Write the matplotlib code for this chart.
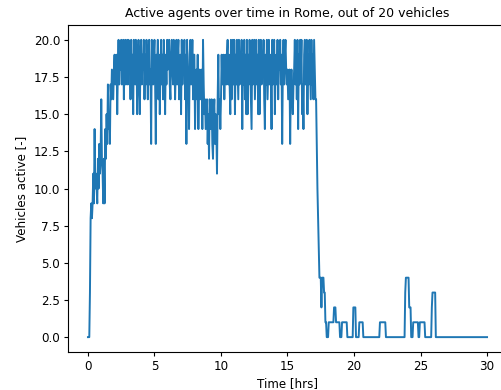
import numpy as np
import matplotlib
matplotlib.use("Agg")
import matplotlib.pyplot as plt

# Active vehicles sampled every 0.05 hr (read off the reference chart),
# one row of 20 samples per hour
active_rows = [
    [0, 0, 0, 3, 8, 9, 8, 9, 11, 9, 14, 10, 11, 10, 9, 12, 10, 13, 11, 12],        # 0 h
    [16, 12, 11, 9, 12, 9, 14, 12, 15, 13, 17, 14, 15, 13, 17, 16, 18, 17, 16, 18],  # 1 h
    [19, 17, 18, 19, 15, 18, 20, 17, 19, 18, 20, 17, 18, 20, 16, 19, 20, 17, 18, 20],  # 2 h
    [17, 20, 18, 19, 16, 20, 17, 19, 15, 20, 18, 17, 20, 19, 15, 18, 20, 17, 15, 19],  # 3 h
    [20, 17, 19, 18, 20, 16, 19, 17, 20, 18, 16, 19, 20, 17, 18, 13, 20, 18, 17, 19],  # 4 h
    [20, 17, 13, 19, 18, 20, 16, 19, 15, 18, 20, 17, 19, 16, 20, 18, 15, 19, 17, 20],  # 5 h
    [18, 19, 20, 17, 16, 19, 20, 18, 17, 20, 19, 16, 18, 20, 17, 19, 20, 16, 18, 19],  # 6 h
    [15, 20, 17, 19, 18, 20, 16, 19, 13, 20, 18, 17, 14, 19, 20, 17, 18, 20, 16, 19],  # 7 h
    [19, 14, 17, 18, 16, 19, 14, 17, 18, 16, 17, 18, 14, 20, 17, 15, 16, 14, 15, 16],  # 8 h
    [13, 15, 12, 16, 15, 14, 16, 13, 12, 15, 16, 13, 15, 14, 11, 16, 19, 15, 16, 14],  # 9 h
    [16, 19, 17, 18, 19, 16, 18, 19, 17, 19, 20, 17, 19, 17, 15, 20, 16, 19, 20, 17],  # 10 h
    [20, 15, 19, 17, 20, 18, 16, 20, 17, 19, 18, 20, 14, 19, 17, 20, 16, 19, 15, 20],  # 11 h
    [15, 19, 17, 20, 18, 16, 14, 20, 17, 19, 20, 16, 18, 20, 17, 19, 15, 20, 15, 18],  # 12 h
    [20, 17, 19, 18, 20, 16, 14, 19, 17, 20, 16, 18, 20, 17, 19, 18, 14, 20, 17, 19],  # 13 h
    [20, 15, 18, 19, 17, 20, 16, 19, 18, 20, 17, 19, 13, 18, 20, 17, 19, 20, 18, 17],  # 14 h
    [18, 16, 17, 18, 13, 17, 18, 16, 15, 17, 18, 20, 17, 19, 16, 20, 14, 19, 17, 20],  # 15 h
    [18, 20, 15, 17, 14, 19, 20, 17, 18, 20, 15, 19, 17, 20, 18, 16, 20, 17, 19, 16],  # 16 h
    [20, 18, 16, 16, 13, 10, 8, 6, 4, 4, 4, 2, 4, 4, 4, 3, 3, 1, 1, 0],              # 17 h
    [0, 0, 1, 1, 1, 1, 1, 1, 1, 1, 2, 2, 2, 1, 1, 1, 1, 1, 1, 0],                   # 18 h
    [0, 0, 1, 1, 1, 1, 1, 1, 1, 1, 0, 0, 0, 0, 0, 0, 0, 0, 0, 2],                   # 19 h
    [2, 2, 2, 0, 0, 0, 0, 0, 1, 1, 1, 1, 1, 1, 0, 0, 0, 0, 0, 0],                   # 20 h
    [0, 0, 0, 0, 0, 0, 0, 0, 0, 0, 0, 0, 0, 0, 0, 0, 0, 0, 0, 1],                   # 21 h
    [1, 1, 1, 1, 1, 1, 1, 1, 0, 0, 0, 0, 0, 0, 0, 0, 0, 0, 0, 0],                   # 22 h
    [0, 0, 0, 0, 0, 0, 0, 0, 0, 0, 0, 0, 0, 0, 0, 0, 0, 3, 4, 4],                   # 23 h
    [4, 4, 4, 2, 2, 2, 0, 0, 0, 1, 1, 1, 1, 1, 1, 1, 1, 0, 0, 1],                   # 24 h
    [1, 1, 1, 1, 1, 1, 1, 0, 0, 0, 0, 0, 0, 0, 0, 0, 0, 2, 3, 3],                   # 25 h
    [3, 3, 3, 0, 0, 0, 0, 0, 0, 0, 0, 0, 0, 0, 0, 0, 0, 0, 0, 0],                   # 26 h
    [0, 0, 0, 0, 0, 0, 0, 0, 0, 0, 0, 0, 0, 0, 0, 0, 0, 0, 0, 0],                   # 27 h
    [0, 0, 0, 0, 0, 0, 0, 0, 0, 0, 0, 0, 0, 0, 0, 0, 0, 0, 0, 0],                   # 28 h
    [0, 0, 0, 0, 0, 0, 0, 0, 0, 0, 0, 0, 0, 0, 0, 0, 0, 0, 0, 0],                   # 29 h
    [0],                                                                           # 30 h
]

active = np.array([v for row in active_rows for v in row])
time_hrs = np.arange(len(active)) * 0.05

plt.rcParams['font.size'] = 8.6
plt.rcParams['xtick.major.size'] = 3
plt.rcParams['ytick.major.size'] = 3
plt.rcParams['xtick.major.pad'] = 2.5
plt.rcParams['ytick.major.pad'] = 2.5

fig = plt.figure(figsize=(5.02, 3.9), dpi=100)
# axes runs slightly past the right edge, as in the cropped original
ax = fig.add_axes([68 / 502, 38 / 390, 439 / 502, 327 / 390])
ax.plot(time_hrs, active, color='#1f77b4', linewidth=1.4)
ax.set_title('Active agents over time in Rome, out of 20 vehicles', fontsize=9.0, pad=6)
ax.set_xlabel('Time [hrs]', labelpad=3)
ax.set_ylabel('Vehicles active [-]', labelpad=4.5)

fig.savefig("out.png", dpi=100)
